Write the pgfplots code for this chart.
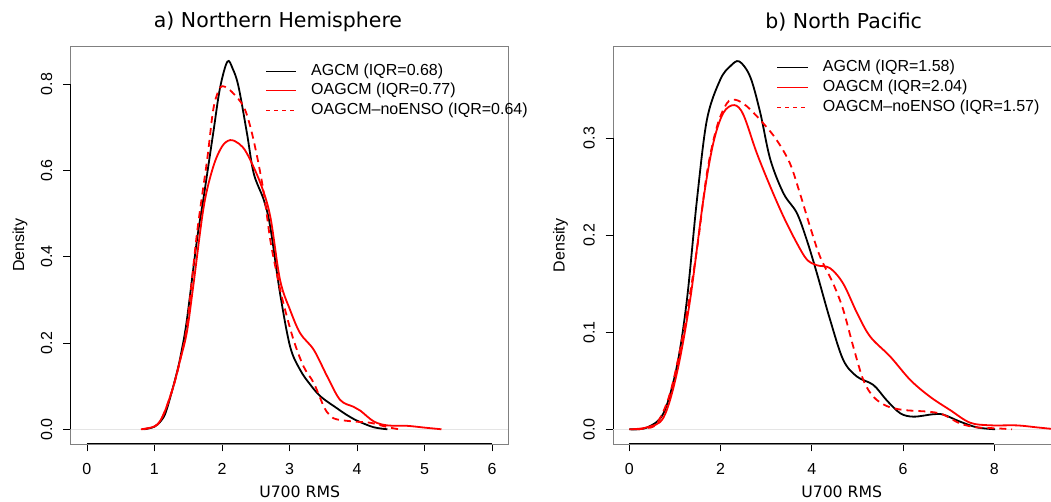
\documentclass[border=0pt]{standalone}
\usepackage{pgfplots}
\pgfplotsset{compat=1.18}
\usepackage{fontspec}
\setmainfont{Liberation Sans}
\newfontfamily\dejavu{DejaVu Sans}
\definecolor{rred}{RGB}{255,0,0}
\definecolor{framegray}{RGB}{128,128,128}
\begin{document}
\begin{tikzpicture}[x=1pt,y=1pt]
\path[use as bounding box] (0pt,0pt) rectangle (1051pt,502pt);
\pgfplotsset{
  rstyle/.style={
    scale only axis, anchor=south west, clip=false,
    axis line style={draw=framegray, line width=0.8pt},
    tick align=outside, xtick pos=bottom, ytick pos=left,
    tick style={black, line width=0.8pt}, major tick length=7.5pt,
    tick label style={font=\fontsize{16}{16}\selectfont},
    /pgf/number format/assume math mode=true,
    yticklabel style={rotate=90, anchor=base, inner sep=0pt},
    xticklabel style={anchor=base, inner sep=0pt},
  },
  blk/.style={black, line width=1.8pt, smooth, tension=0.55, no markers},
  rsol/.style={rred, line width=1.8pt, smooth, tension=0.55, no markers},
  rdash/.style={rred, line width=1.8pt, smooth, tension=0.55, no markers, dash pattern=on 7pt off 5pt},
}
% ---------------- left panel
\begin{axis}[rstyle, at={(70.7pt,58pt)}, width=437.6pt, height=397.3pt,
  xmin=-0.24, xmax=6.24, ymin=-0.0341, ymax=0.8865,
  xtick={0,1,2,3,4,5,6}, ytick={0,0.2,0.4,0.6,0.8},
  yticklabel style={/pgf/number format/.cd, fixed, fixed zerofill, precision=1},
  xticklabel shift=23pt, yticklabel shift=11pt]
\draw[black!10, line width=0.5pt] (axis cs:-0.24,0) -- (axis cs:6.24,0);
\draw[black, line width=1pt] (axis cs:0,-0.0341) -- (axis cs:6,-0.0341);
\draw[black, line width=1pt] (axis cs:-0.24,0) -- (axis cs:-0.24,0.8);
\addplot[blk] coordinates {(0.85,0) (1.0,0.006) (1.1,0.02) (1.18,0.045) (1.33,0.13) (1.40,0.18) (1.48,0.253) (1.63,0.439) (1.73,0.539) (1.87,0.686) (1.97,0.79) (2.08,0.852) (2.16,0.835) (2.245,0.794) (2.37,0.686) (2.47,0.593) (2.62,0.531) (2.715,0.469) (2.86,0.315) (3.01,0.191) (3.16,0.137) (3.3,0.105) (3.46,0.076) (3.70,0.049) (3.85,0.033) (4.0,0.020) (4.24,0.005) (4.45,0)};
\addplot[rsol] coordinates {(0.80,0) (0.95,0.004) (1.05,0.012) (1.15,0.04) (1.28,0.099) (1.38,0.16) (1.48,0.225) (1.58,0.338) (1.73,0.516) (1.87,0.608) (2.0,0.655) (2.12,0.670) (2.25,0.662) (2.37,0.639) (2.57,0.570) (2.715,0.493) (2.86,0.346) (3.01,0.276) (3.16,0.222) (3.36,0.184) (3.56,0.122) (3.75,0.068) (3.95,0.052) (4.05,0.043) (4.25,0.018) (4.45,0.009) (4.74,0.008) (4.99,0.004) (5.25,0)};
\addplot[rdash] coordinates {(0.82,0) (0.95,0.004) (1.05,0.012) (1.15,0.04) (1.28,0.099) (1.38,0.16) (1.48,0.24) (1.63,0.454) (1.78,0.624) (1.87,0.740) (1.95,0.785) (2.01,0.795) (2.08,0.79) (2.17,0.778) (2.32,0.748) (2.42,0.701) (2.52,0.632) (2.62,0.547) (2.715,0.439) (2.81,0.362) (2.91,0.292) (3.06,0.207) (3.21,0.145) (3.36,0.107) (3.51,0.052) (3.60,0.032) (3.70,0.023) (3.95,0.018) (4.2,0.015) (4.45,0.005) (4.62,0)};
\end{axis}
% ---------------- right panel
\begin{axis}[rstyle, at={(613pt,58pt)}, width=443.2pt, height=397.3pt,
  xmin=-0.36, xmax=9.36, ymin=-0.01516, ymax=0.3942,
  xtick={0,2,4,6,8}, ytick={0,0.1,0.2,0.3},
  yticklabel style={/pgf/number format/.cd, fixed, fixed zerofill, precision=1},
  xticklabel shift=23pt, yticklabel shift=11pt]
\draw[black!10, line width=0.5pt] (axis cs:-0.36,0) -- (axis cs:9.36,0);
\draw[black, line width=1pt] (axis cs:0,-0.01516) -- (axis cs:8,-0.01516);
\draw[black, line width=1pt] (axis cs:-0.36,0) -- (axis cs:-0.36,0.3);
\addplot[blk] coordinates {(0,0) (0.38,0.0017) (0.746,0.0165) (1.04,0.0646) (1.26,0.133) (1.48,0.236) (1.70,0.319) (1.99,0.360) (2.21,0.374) (2.41,0.379) (2.65,0.363) (2.87,0.326) (3.09,0.278) (3.38,0.243) (3.67,0.223) (3.89,0.195) (4.11,0.161) (4.40,0.113) (4.69,0.0714) (4.99,0.0543) (5.35,0.0457) (5.64,0.030) (5.94,0.0165) (6.23,0.013) (6.67,0.0155) (6.89,0.015) (7.25,0.0079) (7.62,0.002) (8.02,0)};
\addplot[rsol] coordinates {(0,0) (0.38,0.002) (0.746,0.012) (1.04,0.0577) (1.33,0.133) (1.62,0.236) (1.84,0.295) (2.06,0.326) (2.30,0.334) (2.50,0.324) (2.79,0.285) (3.09,0.250) (3.38,0.219) (3.67,0.192) (3.89,0.175) (4.11,0.169) (4.40,0.166) (4.69,0.150) (4.99,0.120) (5.28,0.0955) (5.72,0.0749) (6.16,0.0508) (6.59,0.0336) (7.03,0.0199) (7.47,0.0068) (7.91,0.0041) (8.50,0.004) (8.93,0.002) (9.25,0.0005) (9.45,0)};
\addplot[rdash] coordinates {(0.15,0) (0.35,0.001) (0.60,0.006) (0.89,0.037) (1.18,0.099) (1.48,0.185) (1.70,0.264) (1.92,0.312) (2.14,0.336) (2.32,0.3395) (2.57,0.333) (2.94,0.315) (3.23,0.298) (3.52,0.274) (3.74,0.243) (3.96,0.209) (4.18,0.178) (4.47,0.150) (4.69,0.123) (4.91,0.085) (5.13,0.0508) (5.35,0.0336) (5.64,0.024) (6.01,0.0199) (6.59,0.018) (6.89,0.015) (7.25,0.006) (7.62,0.002) (8.05,0.001) (8.39,0)};
\end{axis}
% ---------------- titles and labels
\node[anchor=base, inner sep=0pt, font=\dejavu\fontsize{20.5}{20.5}\selectfont] at (278pt,474.5pt) {a) Northern Hemisphere};
\node[anchor=base, inner sep=0pt, font=\dejavu\fontsize{20.5}{20.5}\selectfont] at (843.7pt,473.7pt) {b) North Pacific};
\node[anchor=base, inner sep=0pt, font=\dejavu\fontsize{15.7}{15.7}\selectfont] at (299.7pt,4.7pt) {U700 RMS};
\node[anchor=base, inner sep=0pt, font=\dejavu\fontsize{15.7}{15.7}\selectfont] at (841.7pt,4.7pt) {U700 RMS};
\node[anchor=base, inner sep=0pt, rotate=90, font=\fontsize{16}{16}\selectfont] at (24pt,256.7pt) {Density};
\node[anchor=base, inner sep=0pt, rotate=90, font=\fontsize{16}{16}\selectfont] at (564.5pt,256.5pt) {Density};
% ---------------- legends
\begin{scope}[font=\fontsize{16}{16}\selectfont]
\draw[black, line width=0.8pt] (266pt,431pt) -- (296pt,431pt);
\draw[rred, line width=0.8pt] (266pt,411.3pt) -- (296pt,411.3pt);
\draw[rred, line width=0.8pt, dash pattern=on 4pt off 4pt] (266pt,391.3pt) -- (296pt,391.3pt);
\node[anchor=west, inner sep=0pt] at (311pt,431pt) {AGCM (IQR=0.68)};
\node[anchor=west, inner sep=0pt] at (311pt,411.3pt) {OAGCM (IQR=0.77)};
\node[anchor=west, inner sep=0pt] at (311pt,391.3pt) {OAGCM--noENSO (IQR=0.64)};
\draw[black, line width=0.8pt] (777.3pt,434.3pt) -- (807.7pt,434.3pt);
\draw[rred, line width=0.8pt] (777.3pt,414.3pt) -- (807.7pt,414.3pt);
\draw[rred, line width=0.8pt, dash pattern=on 4pt off 4pt] (777.3pt,394.7pt) -- (807.7pt,394.7pt);
\node[anchor=west, inner sep=0pt] at (822.7pt,434.3pt) {AGCM (IQR=1.58)};
\node[anchor=west, inner sep=0pt] at (822.7pt,414.3pt) {OAGCM (IQR=2.04)};
\node[anchor=west, inner sep=0pt] at (822.7pt,394.7pt) {OAGCM--noENSO (IQR=1.57)};
\end{scope}
\end{tikzpicture}
\end{document}
